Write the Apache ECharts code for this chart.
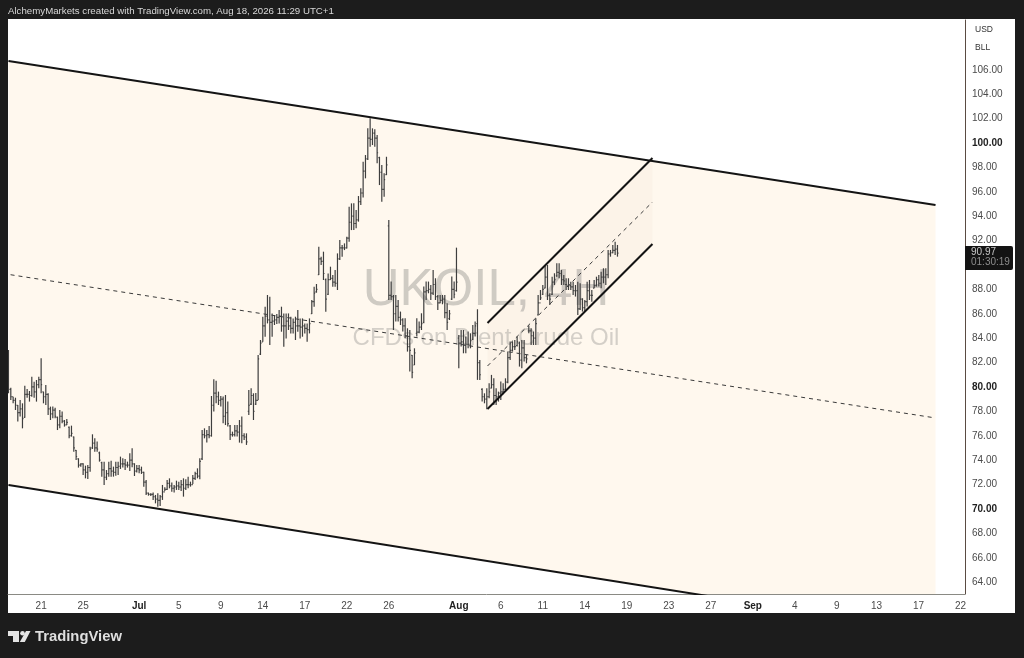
<!DOCTYPE html>
<html><head><meta charset="utf-8">
<style>html,body{margin:0;padding:0;background:#1c1c1c}#c{width:1024px;height:658px}</style>
<script src="https://cdn.jsdelivr.net/npm/echarts@6/dist/echarts.min.js"></script></head>
<body><div id="c"></div>
<script>
const highs=[83.03,79.94,79.2,79.12,78.52,78.93,78.66,80.11,79.83,79.67,80.84,80.43,80.57,80.84,82.35,79.61,80.16,79.48,78.39,78.39,78.3,77.57,78.11,77.98,77.29,77.37,76.75,76.83,75.93,74.83,74.15,73.74,73.74,73.55,73.6,75.11,76.12,75.79,75.52,74.7,73.88,73.88,73.19,73.88,73.96,73.47,73.88,73.88,74.29,74.15,74.1,73.88,74.56,
74.97,73.74,73.6,73.6,73.47,73.06,72.38,71.34,71.28,71.34,71.15,71.28,71.15,71.97,71.78,72.38,72.51,72.16,71.97,72.32,72.24,72.38,72.51,72.43,72.65,72.24,72.79,73.06,73.33,74.15,76.47,76.61,76.47,76.8,79.26,80.63,80.52,79.62,79.26,79.21,79.34,78.8,76.88,76.34,76.88,76.88,77.29,77.57,76.2,76.2,79.75,79.89,79.48,79.51,82.62,
83.85,85.76,86.58,87.54,87.4,86.03,85.9,85.98,86.31,86.58,86.03,86.03,86.03,85.76,85.62,85.76,86.31,85.62,85.62,85.21,85.21,85.62,87.13,88.22,88.44,91.5,90.68,91.09,88.9,89.31,89.86,89.18,89.59,90.95,92.04,91.63,91.77,92.32,94.78,95.05,95.05,94.5,95.65,96.28,98.46,99.01,101.2,102.02,101.2,101.12,100.65,98.87,98.19,97.51,98.87,
93.69,88.64,87.54,87.54,87.13,86.18,85.63,85.63,84.81,84.67,82.62,83.17,85.63,85.36,86.04,88.23,88.64,88.64,88.36,89.59,88.91,87.54,87.54,87.54,87.54,86.86,86.31,89.05,88.64,91.42,84.26,84.67,84.67,84.13,84.54,84.4,85.08,85.36,86.37,82.21,79.89,79.48,79.89,80.3,80.99,80.71,79.89,79.62,80.44,80.3,
80.71,82.9,83.72,83.72,83.85,84.13,83.72,83.85,83.85,82.62,85.03,84.81,84.54,85.63,87.54,87.95,88.36,90.0,90.0,87.68,89.04,89.32,90.14,90.14,89.59,89.18,88.91,88.91,88.63,88.63,88.36,88.63,88.5,87.27,87.13,88.63,88.77,87.95,88.77,89.04,89.18,89.45,89.73,89.73,91.23,91.23,91.64,91.91,91.64];
const lows=[79.48,78.93,78.66,78.11,77.16,77.57,76.61,77.48,79.12,78.8,79.2,79.12,78.8,79.89,79.48,78.66,78.52,77.7,77.29,77.43,77.43,76.47,76.61,77.02,76.75,76.88,75.79,75.93,74.7,74.01,73.39,73.47,72.78,72.51,72.46,73.06,74.92,74.7,74.7,73.88,72.65,71.96,72.37,72.65,72.65,72.65,72.73,72.78,73.28,73.39,73.19,73.39,73.11,
73.41,72.7,72.98,72.92,72.87,71.83,71.15,71.09,71.07,70.74,70.46,70.19,70.25,70.74,71.47,71.56,71.69,71.42,71.34,71.56,71.56,71.47,71.01,71.56,71.69,71.83,72.05,72.38,72.51,72.43,74.02,75.79,75.44,75.79,75.93,77.98,78.66,78.52,78.39,77.02,76.88,76.75,75.65,75.93,75.93,75.93,75.44,75.38,75.65,75.25,77.7,78.52,77.29,78.52,78.93,
82.62,83.71,84.12,85.21,83.44,84.12,85.08,85.16,85.21,84.53,83.3,83.98,84.67,84.39,84.39,83.85,84.53,83.98,84.12,84.39,83.71,84.39,85.98,86.58,87.73,89.18,90.0,88.77,86.17,87.54,88.77,88.22,88.22,87.95,90.4,90.68,91.22,91.36,91.91,92.86,92.86,93.0,93.55,94.91,95.54,97.1,98.6,99.69,99.83,99.69,98.33,96.55,95.19,95.6,97.37,
87.13,87.13,84.67,85.36,85.36,85.08,84.54,83.99,82.9,81.26,80.71,81.8,84.13,84.4,84.67,85.22,87.13,87.68,87.13,87.54,87.13,86.31,86.86,86.78,85.63,84.67,85.49,87.13,87.27,87.82,81.53,83.31,82.76,82.76,83.17,83.17,83.85,84.13,80.58,80.58,78.8,78.66,78.17,79.07,79.89,78.53,78.53,78.8,78.94,79.4,
79.62,80.3,82.21,82.9,83.03,83.31,81.67,81.53,82.08,81.94,84.4,83.44,83.44,83.44,85.9,87.13,87.54,88.09,87.13,86.72,87.54,88.36,89.04,88.91,88.36,88.36,87.95,87.95,87.95,87.54,87.41,85.9,86.31,86.18,86.18,86.59,87.13,86.99,88.09,88.23,88.23,88.09,88.5,88.36,88.91,90.68,90.96,90.82,90.68];
const closes=[79.8,79.2,78.9,78.5,77.9,78.2,77.4,79.4,79.4,79.3,80.0,79.6,80.2,80.6,80.2,79.2,79.4,78.2,77.8,78.1,77.6,76.9,77.6,77.2,76.9,77.1,76.0,76.2,75.0,74.3,73.6,73.7,73.2,73.0,73.4,74.9,75.4,75.0,74.9,74.0,73.2,72.6,72.9,73.3,73.1,73.0,73.4,73.5,73.7,73.7,73.6,73.6,74.0,
73.7,73.1,73.3,73.2,73.0,72.2,71.3,71.2,71.2,71.0,70.8,70.7,71.0,71.4,71.6,72.1,71.9,71.7,71.8,71.9,71.8,72.0,71.7,72.0,72.0,72.0,72.5,72.9,72.7,73.9,76.1,76.0,76.1,76.0,78.5,79.5,79.2,78.9,79.0,77.6,77.9,77.0,76.1,76.1,76.4,76.3,76.8,76.0,75.9,75.5,78.5,79.3,78.0,78.9,82.3,
83.6,85.0,85.8,85.5,85.3,85.4,85.5,85.7,85.8,85.0,85.0,85.4,85.0,84.8,85.3,85.0,85.0,84.9,85.0,84.8,84.7,85.2,87.0,87.7,88.0,90.5,90.3,89.3,87.2,88.8,88.9,88.6,88.5,90.5,91.4,91.4,91.4,92.2,93.5,94.0,93.4,93.7,95.2,95.9,97.7,98.7,100.4,100.3,100.8,100.4,99.2,97.6,96.2,97.0,98.2,
87.5,87.4,86.0,86.6,85.7,85.5,85.0,84.2,83.3,83.0,81.2,82.8,84.5,84.9,85.2,87.8,87.9,88.0,87.7,88.4,87.4,86.9,87.1,87.2,86.1,85.3,86.0,88.0,87.6,88.6,83.6,83.7,83.4,83.5,83.5,83.8,84.4,85.0,82.0,81.0,79.2,79.0,79.2,79.6,80.2,79.3,79.2,79.5,79.6,79.8,
80.4,82.4,83.0,83.3,83.3,83.7,82.2,83.2,82.4,82.3,84.6,84.2,84.0,85.2,86.9,87.3,88.0,89.0,87.5,87.2,88.6,88.8,89.4,89.3,88.8,88.7,88.4,88.3,88.2,87.9,87.9,86.4,87.2,86.5,87.0,87.9,87.5,87.5,88.3,88.8,88.5,89.0,89.0,89.2,90.9,91.0,91.2,91.3,90.97];
const opens=[80.5,79.8,79.2,78.9,78.5,77.9,78.2,77.5,79.4,79.4,79.3,80.0,79.6,80.2,80.6,79.6,79.2,79.4,78.2,77.8,78.1,77.5,76.9,77.6,77.2,76.9,76.7,76.0,75.9,74.8,74.1,73.6,73.7,73.2,73.0,73.4,75.0,75.4,75.0,74.6,73.8,73.2,72.6,72.9,73.3,73.1,73.0,73.4,73.5,73.7,73.7,73.6,73.6,
74.0,73.7,73.1,73.3,73.2,73.0,72.2,71.3,71.2,71.2,71.0,70.8,70.7,71.0,71.4,71.6,72.1,71.9,71.7,71.8,71.9,71.8,72.0,71.7,72.0,72.0,72.0,72.5,72.9,72.7,74.1,76.1,76.0,76.1,76.0,78.5,79.5,79.2,78.9,79.0,77.6,77.9,76.8,76.1,76.1,76.4,76.3,76.8,76.0,75.9,78.0,78.6,79.3,78.6,78.9,
82.7,83.7,85.0,85.8,85.5,85.3,85.4,85.5,85.7,85.8,85.0,85.0,85.4,85.0,84.8,85.3,85.0,85.0,84.9,85.0,84.8,84.7,86.0,87.0,87.8,89.2,90.5,90.3,88.8,87.6,88.8,88.9,88.6,88.5,90.5,91.4,91.4,91.4,92.2,93.5,94.0,93.4,93.7,95.2,95.9,97.7,98.7,100.4,100.3,100.8,100.4,98.8,97.6,96.2,97.4,
93.2,87.5,87.4,86.0,86.6,85.7,85.5,85.0,84.2,83.3,82.6,81.8,84.4,84.5,84.9,85.3,87.8,87.9,88.0,87.7,88.4,87.4,86.9,87.1,87.2,86.1,85.6,87.2,88.0,87.9,84.0,83.6,83.7,83.4,83.5,83.5,83.9,84.4,85.2,82.0,79.8,79.2,79.0,79.2,79.9,80.2,79.3,79.2,79.5,79.6,
79.8,80.4,82.4,83.0,83.3,83.4,83.6,82.2,83.2,82.4,84.6,84.6,84.2,84.0,85.9,86.9,87.6,88.1,89.0,87.5,87.6,88.6,89.1,89.4,89.3,88.8,88.4,88.3,88.3,88.2,87.9,87.9,86.4,87.2,86.5,87.0,87.9,87.5,88.1,88.3,88.8,88.5,89.0,89.0,89.2,90.9,91.0,91.2,91.3];

const xTickPos=[14,32,56,73,91,109,127,145,163,193,211,229,247,265,283,301,319,337,355,372,390,408];
const xTickText=['21','25','Jul','5','9','14','17','22','26','Aug','6','11','14','19','23','27','Sep','4','9','13','17','22'];
const xBold=['Jul','Aug','Sep'];
const yTicks=[64,66,68,70,72,74,76,78,80,82,84,86,88,92,94,96,98,100,102,104,106];
const yBold=[70,80,100];

const mainTop=[[0,106.72],[397.3,94.92]];
const mainBottom=[[0,71.97],[397.3,59.9]];
const mainMid=[[0.9,89.2],[397.3,77.46]];
const innerTop=[[205.3,85.25],[276,98.77]];
const innerBottom=[[205.3,78.2],[276,91.72]];
const innerMid=[[205.3,81.72],[276,95.16]];

const FONT='"Liberation Sans",Arial,sans-serif';
const bars=highs.map((h,i)=>[i,opens[i],h,lows[i],closes[i]]);

function band(a,b,color,z){return {type:'custom',coordinateSystem:'cartesian2d',silent:true,clip:true,z:z,
  data:[[a[0][0],a[0][1]],[a[1][0],a[1][1]],[b[1][0],b[1][1]],[b[0][0],b[0][1]]],
  renderItem(p,api){ if(p.dataIndex!==0) return null;
    const pts=[a[0],a[1],b[1],b[0]].map(q=>api.coord(q));
    return {type:'polygon',shape:{points:pts},style:{fill:color}};}};}
function seg(d,w,dash,z){return {type:'line',data:d,symbol:'none',silent:true,z:z,clip:true,
  lineStyle:{color:dash?'#3a3a3a':'#141414',width:w,type:dash?[4,4]:'solid'}};}

const option={animation:false,backgroundColor:'#1c1c1c',
 grid:{left:8,right:59,top:20,bottom:64,show:false},
 xAxis:{type:'value',min:-0.2,max:409.94,splitLine:{show:false},
  axisLine:{show:true,onZero:false,lineStyle:{color:'#8a8a84',width:1}},
  axisTick:{show:false,customValues:xTickPos},
  axisLabel:{customValues:xTickPos,margin:7,fontFamily:FONT,fontSize:10,color:'#4a4a4a',
   formatter:v=>{const t=xTickText[xTickPos.indexOf(v)];return xBold.includes(t)?'{b|'+t+'}':t;},
   rich:{b:{fontWeight:'bold',fontSize:10,color:'#222',fontFamily:FONT}}}},
 yAxis:{type:'value',position:'right',min:63.03,max:110.08,splitLine:{show:false},
  axisLine:{show:true,onZero:false,lineStyle:{color:'#5a4b42',width:1}},
  axisTick:{show:false,customValues:yTicks},
  axisLabel:{customValues:yTicks,margin:7,fontFamily:FONT,fontSize:10,color:'#4a4a4a',
   formatter:v=>{const t=v.toFixed(2);return yBold.includes(v)?'{b|'+t+'}':t;},
   rich:{b:{fontWeight:'bold',fontSize:10,color:'#222',fontFamily:FONT}}}},
 series:[
  band(mainTop,mainBottom,'#fff8ee',1),
  band(innerTop,innerBottom,'#fcf3e8',1.2),
  seg(mainMid,1,true,2),seg(innerMid,1,true,2),
  {type:'custom',coordinateSystem:'cartesian2d',silent:true,clip:true,z:3,
   encode:{x:0,y:[1,2,3,4]},data:bars,
   renderItem(p,api){
    const i=api.value(0),s={stroke:'#3e3e3e',lineWidth:1.2};
    const hi=api.coord([i,api.value(2)]),lo=api.coord([i,api.value(3)]);
    const op=api.coord([i,api.value(1)]),cl=api.coord([i,api.value(4)]);
    return {type:'group',children:[
     {type:'line',shape:{x1:hi[0],y1:hi[1],x2:lo[0],y2:lo[1]},style:s},
     {type:'line',shape:{x1:op[0]-1,y1:op[1],x2:op[0],y2:op[1]},style:s},
     {type:'line',shape:{x1:cl[0],y1:cl[1],x2:cl[0]+1,y2:cl[1]},style:s}]};
   }},
  seg(mainTop,2,false,4),seg(mainBottom,2,false,4),seg(innerTop,2,false,4),seg(innerBottom,2,false,4)
 ],
 graphic:[
  {type:'rect',z:-5,silent:true,shape:{x:8,y:19,width:1007,height:594},style:{fill:'#fff'}},
  {type:'text',z:1.5,silent:true,x:486,y:291,style:{text:'UKOIL, 4H',font:'51px '+FONT,fill:'rgba(130,128,125,0.38)',align:'center',verticalAlign:'middle'}},
  {type:'text',z:1.5,silent:true,x:486,y:338,style:{text:'CFDs on Brent Crude Oil',font:'24px '+FONT,fill:'rgba(130,128,125,0.34)',align:'center',verticalAlign:'middle'}},
  {type:'text',z:10,x:8,y:11,style:{text:'AlchemyMarkets created with TradingView.com, Aug 18, 2026 11:29 UTC+1',font:'9.7px '+FONT,fill:'#d8d8d8',verticalAlign:'middle'}},
  {type:'text',z:10,x:975,y:30,style:{text:'USD',font:'8.5px '+FONT,fill:'#333',verticalAlign:'middle'}},
  {type:'text',z:10,x:975,y:48,style:{text:'BLL',font:'8.5px '+FONT,fill:'#333',verticalAlign:'middle'}},
  {type:'rect',z:10,shape:{x:965,y:246,width:48,height:24,r:[0,2,2,0]},style:{fill:'#131313'}},
  {type:'text',z:11,x:971,y:252.5,style:{text:'90.97',font:'10px '+FONT,fill:'#c8c8c8',verticalAlign:'middle'}},
  {type:'text',z:11,x:971,y:262.5,style:{text:'01:30:19',font:'10px '+FONT,fill:'#8c8c8c',verticalAlign:'middle'}},
  {type:'polygon',z:10,shape:{points:[[8,631],[19,631],[19,642],[13,642],[13,636],[8,636]]},style:{fill:'#e4e4e4'}},
  {type:'circle',z:10,shape:{cx:22.5,cy:633.3,r:2.3},style:{fill:'#e4e4e4'}},
  {type:'polygon',z:10,shape:{points:[[30.5,631],[26,631],[19.8,642],[24.8,642]]},style:{fill:'#e4e4e4'}},
  {type:'text',z:10,x:35,y:636.5,style:{text:'TradingView',font:'bold 14.8px '+FONT,fill:'#dedede',verticalAlign:'middle'}}
 ]};
const chart=echarts.init(document.getElementById('c'),null,{renderer:'canvas'});
chart.setOption(option);
</script></body></html>
